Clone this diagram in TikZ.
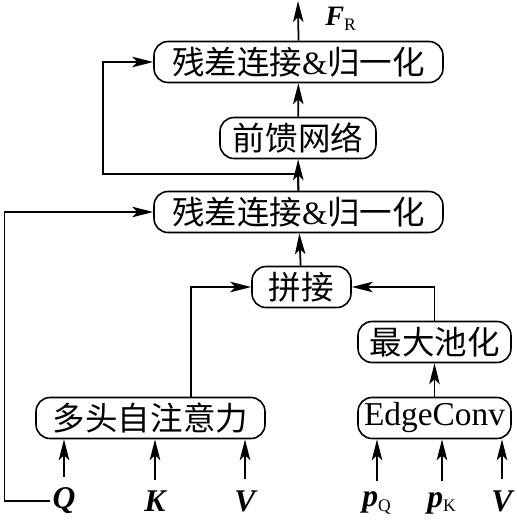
\documentclass[tikz,border=0pt]{standalone}
\usepackage{fontspec}
\setmainfont{Liberation Serif}
\newfontfamily\cjk{Noto Sans CJK SC}
\usetikzlibrary{arrows.meta}
\begin{document}
\begin{tikzpicture}[x=0.02cm,y=-0.02cm, every node/.style={font=\fontsize{18.5}{20}\selectfont},
  blockbox/.style={draw, line width=0.9pt, rounded corners=0.28cm, minimum height=0.82cm, inner sep=1pt},
  inlabel/.style={font=\fontsize{18}{20}\selectfont\bfseries\itshape, inner sep=1pt},
  flow/.style={line width=1pt, -{Stealth[length=4.2mm,width=2.1mm,inset=1mm]}}]
  \useasboundingbox (0,0) rectangle (517,521);
  \node[blockbox, minimum width=5.78cm] (res2) at (298.5,62) {{\cjk 残差连接}\&{\cjk 归一化}};
  \node[blockbox, minimum width=3.12cm] (ffn) at (298,138) {\cjk 前馈网络};
  \node[blockbox, minimum width=5.78cm] (res1) at (298.5,212) {{\cjk 残差连接}\&{\cjk 归一化}};
  \node[blockbox, minimum width=1.98cm] (cat) at (301.5,287) {\cjk 拼接};
  \node[blockbox, minimum width=3.06cm] (pool) at (434.5,342) {\cjk 最大池化};
  \node[blockbox, minimum width=3.06cm, font=\fontsize{19}{21}\selectfont] (edge) at (434.5,418) {EdgeConv};
  \node[blockbox, minimum width=4.58cm] (mhsa) at (150.5,418) {\cjk 多头自注意力};
  \node[inlabel] (q) at (64,501) {Q};
  \node[inlabel] (k) at (155,501) {K};
  \node[inlabel] (v) at (245,501) {V};
  \node[inlabel] (pq) at (377,503) {p\textsubscript{\normalfont\fontsize{10}{10}\selectfont Q}};
  \node[inlabel] (pk) at (442,503) {p\textsubscript{\normalfont\fontsize{10}{10}\selectfont K}};
  \node[inlabel] (v2) at (502,501) {V};
  \node[inlabel, font=\fontsize{16}{18}\selectfont\bfseries\itshape] (fr) at (341,19) {F\textsubscript{\normalfont\fontsize{10}{10}\selectfont R}};
  \coordinate (out) at (298,1);
  \coordinate (split) at (298,174);
  \foreach \src/\dst in {q/mhsa,k/mhsa,v/mhsa,pq/edge,pk/edge,v2/edge} {
    \draw[flow] ([yshift=0.18cm]\src.north -| \src) -- (\src |- \dst.south);
  }
  \draw[flow] (edge) -- (pool);
  \draw[flow] (pool.north) |- (cat.east);
  \draw[flow] ([xshift=0.81cm]mhsa.north) |- (cat.west);
  \draw[flow] (cat) -- (res1);
  \draw[flow] (res1) -- (ffn);
  \draw[flow] (ffn) -- (res2);
  \draw[flow] (res2.north) -- (out);
  \draw[line width=1pt] (res1.north) -- (split);
  \draw[flow] (split) -- ++(-195,0) |- (res2.west);
  \draw[flow] (q.west) -- ++(-46,0) |- (res1.west);
\end{tikzpicture}
\end{document}
